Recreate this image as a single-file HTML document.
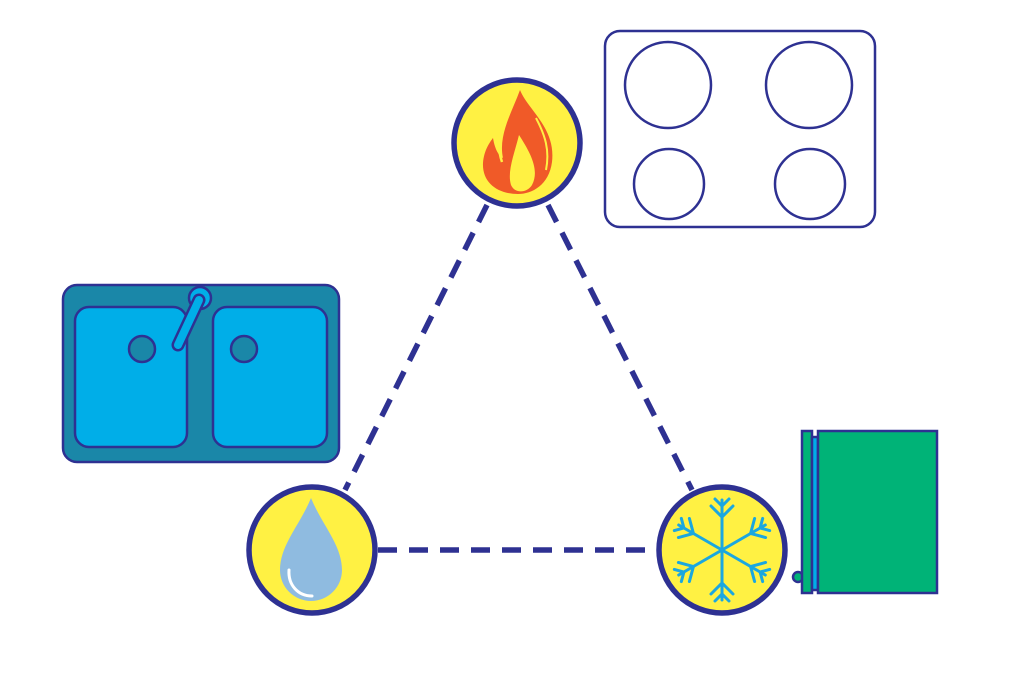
<!DOCTYPE html>
<html><head><style>html,body{margin:0;padding:0;background:#fff}svg{display:block}</style></head>
<body>
<svg width="1024" height="683" viewBox="0 0 1024 683" xmlns="http://www.w3.org/2000/svg">
<g stroke="#2e3192" stroke-width="5.5" stroke-dasharray="19 12" fill="none">
<line x1="487" y1="205" x2="345" y2="490"/>
<line x1="548" y1="205" x2="692" y2="490"/>
<line x1="378" y1="550" x2="656" y2="550"/>
</g>
<!-- stove -->
<g fill="none" stroke="#2e3192" stroke-width="2.5">
<rect x="605" y="31" width="270" height="196" rx="15"/>
<circle cx="668" cy="85" r="43"/>
<circle cx="809" cy="85" r="43"/>
<circle cx="669" cy="184" r="35"/>
<circle cx="810" cy="184" r="35"/>
</g>
<!-- sink -->
<g stroke="#2e3192" stroke-width="2.5">
<rect x="63" y="285" width="276" height="177" rx="14" fill="#1a87a8"/>
<rect x="75" y="307" width="112" height="140" rx="14" fill="#00aee8"/>
<rect x="213" y="307" width="114" height="140" rx="14" fill="#00aee8"/>
<circle cx="142" cy="349" r="13" fill="#1a87a8"/>
<circle cx="244" cy="349" r="13" fill="#1a87a8"/>
<circle cx="200" cy="298" r="11" fill="#00aee8"/>
<line x1="199" y1="300" x2="178" y2="345" stroke-width="13" stroke-linecap="round"/>
<line x1="199" y1="300" x2="178" y2="345" stroke="#00aee8" stroke-width="8" stroke-linecap="round"/>
</g>
<!-- fridge -->
<g stroke="#2e3192" stroke-width="2.5">
<circle cx="798" cy="577" r="5" fill="#00b377"/>
<rect x="802" y="431" width="10" height="162" fill="#00b377"/>
<rect x="812" y="437" width="6" height="153" fill="#00aee8"/>
<rect x="818" y="431" width="119" height="162" fill="#00b377"/>
</g>
<!-- circles -->
<g fill="#fff143" stroke="#2e3192" stroke-width="5.5">
<circle cx="517" cy="143" r="63"/>
<circle cx="312" cy="550" r="63"/>
<circle cx="722" cy="550" r="63"/>
</g>
<!-- flame -->
<path d="M520 90 C 528 110, 556 128, 552 162 C 549 185, 532 194, 518 194 C 498 194, 482 183, 483 163 C 484 150, 490 142, 493 138 C 495 150, 499 156, 503 158 C 498 135, 512 112, 520 90 Z" fill="#f05a28"/>
<path d="M519 135 C 530 152, 540 170, 532 185 C 527 193, 515 194, 511 185 C 507 172, 514 155, 519 135 Z" fill="#fff143"/>
<path d="M508 110 C 500 128, 496 145, 502 162" stroke="#fff143" stroke-width="2.5" fill="none"/>
<path d="M536 118 C 545 135, 550 150, 546 170" stroke="#fff143" stroke-width="2" fill="none"/>
<!-- drop -->
<path d="M311 498 C 300 525, 280 545, 280 570 A 31 31 0 0 0 342 570 C 342 545, 322 525, 311 498 Z" fill="#8fbbe0"/>
<path d="M289 570 C 288 585, 298 596, 312 596" stroke="#fff" stroke-width="3" fill="none" stroke-linecap="round"/>
<!-- snowflake -->
<g stroke="#1ba7e0" stroke-width="3" fill="none" stroke-linecap="round" transform="translate(722,550)">
<g id="arm"><line x1="0" y1="0" x2="0" y2="-50"/><polyline points="-11,-44 0,-33 11,-44"/><polyline points="-7,-51 0,-44 7,-51"/></g>
<use href="#arm" transform="rotate(60)"/>
<use href="#arm" transform="rotate(120)"/>
<use href="#arm" transform="rotate(180)"/>
<use href="#arm" transform="rotate(240)"/>
<use href="#arm" transform="rotate(300)"/>
</g>
</svg>
</body></html>
